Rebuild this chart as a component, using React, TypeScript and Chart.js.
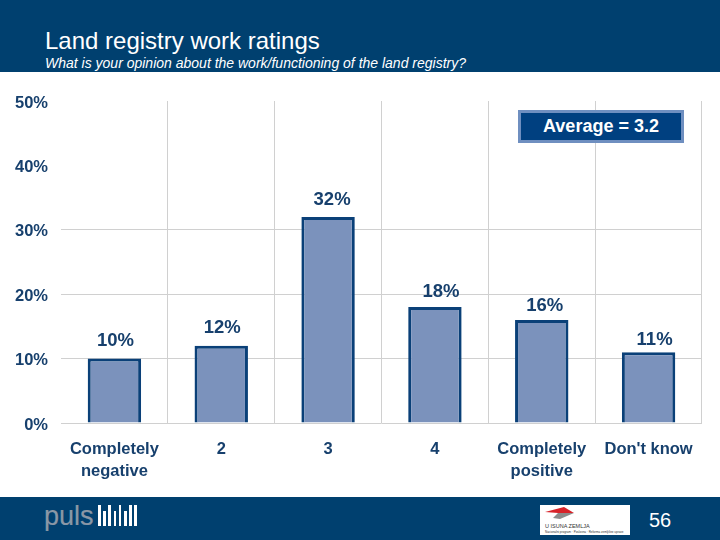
import { Chart, registerables } from 'chart.js';
import { useEffect, useRef } from 'react';

Chart.register(...registerables);

const categories = [['Completely', 'negative'], '2', '3', '4', ['Completely', 'positive'], "Don't know"];
const ratings = [10, 12, 32, 18, 16, 11];
const valueLabels = ['10%', '12%', '32%', '18%', '16%', '11%'];
const yTicks = [0, 10, 20, 30, 40, 50];
const logoBars = [21, 15, 21, 15, 21, 15, 21, 21];

// labels in the original sit a bit off the bar centre, so nudge them by hand
const labelNudgeX = [1, 1, 4, 6, 3, 6];
const labelNudgeY = [18, 18, 17, 15, 14, 12];

const NAVY = '#00406f';
const TEXT_BLUE = '#17406d';
const GRID = '#d0d0d0';
const FONT = '"Liberation Sans", Arial, sans-serif';

const barLabels = {
    id: 'barLabels',
    afterDatasetsDraw(chart: Chart) {
        const { ctx } = chart;
        const bars = chart.getDatasetMeta(0).data;
        ctx.save();
        ctx.fillStyle = TEXT_BLUE;
        ctx.font = `bold 18.5px ${FONT}`;
        ctx.textAlign = 'center';
        ctx.textBaseline = 'middle';
        bars.forEach((bar, i) => {
            ctx.fillText(valueLabels[i], bar.x + labelNudgeX[i], bar.y - labelNudgeY[i]);
        });
        ctx.restore();
    },
};

const App = () => {
    const chartRef = useRef<HTMLCanvasElement | null>(null);

    useEffect(() => {
        if (!chartRef.current) return;
        const chart = new Chart(chartRef.current, {
            type: 'bar',
            data: {
                labels: categories as any,
                datasets: [
                    {
                        data: ratings,
                        backgroundColor: '#7b92bc',
                        borderColor: '#0a4078',
                        borderWidth: { left: 3, right: 3, top: 3, bottom: 0 },
                        barPercentage: 0.5,
                        categoryPercentage: 1,
                    },
                ],
            },
            options: {
                responsive: false,
                animation: false,
                devicePixelRatio: 1,
                layout: { padding: { left: 0, right: 18, top: 101, bottom: 0 } },
                plugins: {
                    legend: { display: false },
                    tooltip: { enabled: false },
                },
                scales: {
                    x: {
                        border: { display: false },
                        grid: {
                            drawTicks: false,
                            color: (c) => (c.index === 0 ? 'transparent' : GRID),
                        },
                        ticks: {
                            color: TEXT_BLUE,
                            padding: 15,
                            maxRotation: 0,
                            autoSkip: false,
                            font: { family: FONT, size: 16.5, weight: 'bold', lineHeight: 1.36 },
                        },
                        afterFit: (scale) => {
                            scale.height = 117;
                        },
                    },
                    y: {
                        min: 0,
                        max: 50,
                        border: { display: false },
                        grid: {
                            drawTicks: false,
                            // the top two levels have no line in the original
                            color: (c) => (c.tick.value <= 30 ? GRID : 'transparent'),
                        },
                        afterBuildTicks: (scale) => {
                            scale.ticks = yTicks.map((value) => ({ value }));
                        },
                        ticks: {
                            color: TEXT_BLUE,
                            padding: 13,
                            labelOffset: 2,
                            callback: (v) => `${v}%`,
                            font: { family: FONT, size: 16.5, weight: 'bold' },
                        },
                        afterFit: (scale) => {
                            scale.width = 61;
                        },
                    },
                },
            },
            plugins: [barLabels],
        });
        return () => chart.destroy();
    }, []);

    return (
        <div style={{ position: 'absolute', left: 0, top: 0, width: 720, height: 540, background: '#fff', overflow: 'hidden', fontFamily: FONT }}>
            <canvas ref={chartRef} width={720} height={540} style={{ position: 'absolute', left: 0, top: 0 }} />

            <div style={{ position: 'absolute', left: 0, top: 0, width: 720, height: 72, background: NAVY, color: '#fff' }}>
                <div style={{ position: 'absolute', left: 45, top: 27, fontSize: 24, lineHeight: '27px', whiteSpace: 'nowrap' }}>
                    Land registry work ratings
                </div>
                <div style={{ position: 'absolute', left: 45, top: 55, fontSize: 14, lineHeight: '16px', fontStyle: 'italic', whiteSpace: 'nowrap' }}>
                    What is your opinion about the work/functioning of the land registry?
                </div>
            </div>

            <div
                style={{
                    position: 'absolute', left: 518, top: 110, width: 160, height: 27, border: '3px solid #6f8fc0',
                    background: '#004080', color: '#fff', fontSize: 18, fontWeight: 'bold', textAlign: 'center', lineHeight: '27px',
                }}
            >
                Average = 3.2
            </div>

            <div style={{ position: 'absolute', left: 0, top: 497, width: 720, height: 43, background: NAVY }}>
                <div style={{ position: 'absolute', left: 44, top: 2, fontSize: 27, lineHeight: '34px', color: '#8a97a6', WebkitTextStroke: '0.2px #8a97a6' }}>puls</div>
                {logoBars.map((h, i) => (
                    <div key={i} style={{ position: 'absolute', left: 98 + i * 5.2, top: 29 - h, width: 2.6, height: h, background: '#fff' }} />
                ))}
                <div style={{ position: 'absolute', left: 540, top: 8, width: 90, height: 30, background: '#fff', overflow: 'hidden' }}>
                    <svg width="90" height="16" style={{ position: 'absolute', left: 0, top: 0 }}>
                        <polygon points="5,7 24,2 34,8 18,8" fill="#d8232a" />
                        <polygon points="13,13 18,8 34,8 20,14" fill="#8c8c8c" />
                    </svg>
                    <div style={{ position: 'absolute', left: 5, top: 18, fontSize: 5.5, lineHeight: '6px', color: '#333', whiteSpace: 'nowrap' }}>U ISUNA ZEMLJA</div>
                    <div style={{ position: 'absolute', left: 5, top: 25, fontSize: 3, lineHeight: '4px', color: '#333', whiteSpace: 'nowrap' }}>
                        Nacionalni program · Poslovna · Reforma zemljišne uprave
                    </div>
                </div>
                <div style={{ position: 'absolute', left: 649, top: 10, fontSize: 20, lineHeight: '26px', color: '#fff' }}>56</div>
            </div>
        </div>
    );
};

export default App;
